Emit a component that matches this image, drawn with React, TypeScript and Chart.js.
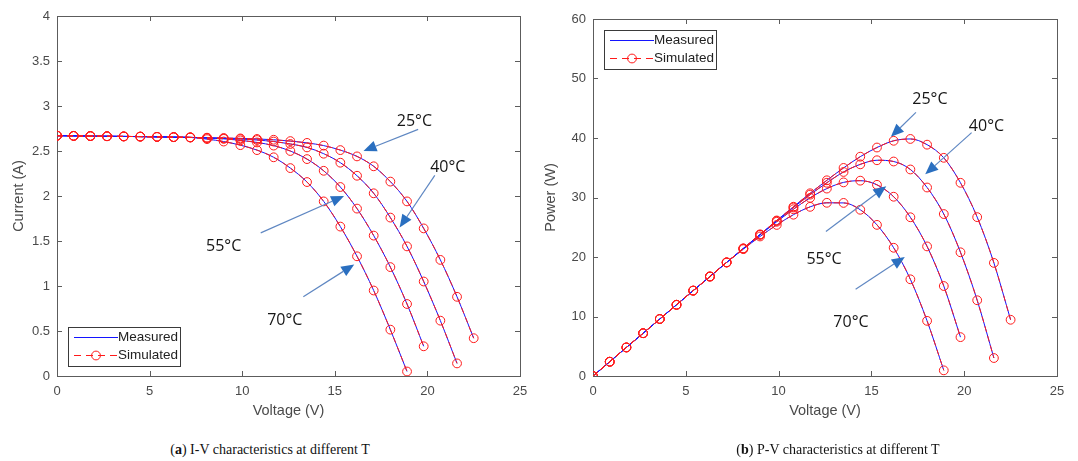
import React, { useEffect, useRef } from "react";
import { Chart, registerables } from "chart.js";

Chart.register(...registerables);

// ---------- data ----------
const VOLTAGE = [0, 0.9, 1.8, 2.7, 3.6, 4.5, 5.4, 6.3, 7.2, 8.1, 9.0, 9.9, 10.8, 11.7, 12.6, 13.5, 14.4, 15.3, 16.2, 17.1, 18.0, 18.9, 19.8, 20.7, 21.6, 22.5];

const I_25C = [2.670, 2.668, 2.666, 2.664, 2.662, 2.660, 2.657, 2.654, 2.651, 2.648, 2.644, 2.640, 2.634, 2.625, 2.610, 2.590, 2.560, 2.510, 2.440, 2.330, 2.160, 1.940, 1.640, 1.290, 0.880, 0.420];
const I_40C = [2.670, 2.668, 2.666, 2.664, 2.662, 2.660, 2.657, 2.654, 2.651, 2.646, 2.640, 2.633, 2.622, 2.605, 2.578, 2.540, 2.470, 2.370, 2.225, 2.030, 1.760, 1.440, 1.050, 0.615, 0.140];
const I_55C = [2.670, 2.668, 2.666, 2.664, 2.662, 2.660, 2.657, 2.654, 2.651, 2.643, 2.635, 2.618, 2.595, 2.560, 2.500, 2.410, 2.280, 2.100, 1.860, 1.560, 1.210, 0.800, 0.330];
const I_70C = [2.670, 2.668, 2.666, 2.664, 2.662, 2.660, 2.657, 2.654, 2.651, 2.632, 2.605, 2.565, 2.510, 2.430, 2.310, 2.155, 1.940, 1.660, 1.330, 0.950, 0.515, 0.050];

const P_25C = [0, 2.40, 4.80, 7.19, 9.58, 11.97, 14.35, 16.72, 19.09, 21.45, 23.80, 26.14, 28.45, 30.71, 32.89, 34.97, 36.86, 38.40, 39.53, 39.84, 38.88, 36.67, 32.47, 26.70, 19.01, 9.45];
const P_40C = [0, 2.40, 4.80, 7.19, 9.58, 11.97, 14.35, 16.72, 19.09, 21.43, 23.76, 26.07, 28.32, 30.48, 32.48, 34.29, 35.57, 36.26, 36.05, 34.71, 31.68, 27.22, 20.79, 12.73, 3.02];
const P_55C = [0, 2.40, 4.80, 7.19, 9.58, 11.97, 14.35, 16.72, 19.09, 21.41, 23.72, 25.92, 28.03, 29.95, 31.50, 32.54, 32.83, 32.13, 30.13, 26.68, 21.78, 15.12, 6.53];
const P_70C = [0, 2.40, 4.80, 7.19, 9.58, 11.97, 14.35, 16.72, 19.09, 21.32, 23.45, 25.39, 27.11, 28.43, 29.11, 29.09, 27.94, 25.40, 21.55, 16.25, 9.27, 0.95];

const V_TICKS = [0, 5, 10, 15, 20, 25];
const I_TICKS = [0, 0.5, 1, 1.5, 2, 2.5, 3, 3.5, 4];
const P_TICKS = [0, 10, 20, 30, 40, 50, 60];

const LEGEND_LABELS = ["Measured", "Simulated"];

// ---------- annotation placement (data coordinates) ----------
type Ann = { text: string; tx: number; ty: number; fx: number; fy: number; hx: number; hy: number };
const IV_NOTES: Ann[] = [
  { text: "25°C", tx: 19.3, ty: 2.83, fx: 19.5, fy: 2.74, hx: 16.55, hy: 2.5 },
  { text: "40°C", tx: 21.1, ty: 2.32, fx: 20.4, fy: 2.23, hx: 18.5, hy: 1.65 },
  { text: "55°C", tx: 9.0, ty: 1.44, fx: 11.0, fy: 1.59, hx: 15.5, hy: 2.0 },
  { text: "70°C", tx: 12.3, ty: 0.62, fx: 13.3, fy: 0.88, hx: 16.05, hy: 1.24 },
];
const PV_NOTES: Ann[] = [
  { text: "25°C", tx: 18.15, ty: 46.4, fx: 17.4, fy: 44.3, hx: 16.05, hy: 40.2 },
  { text: "40°C", tx: 21.2, ty: 42.0, fx: 20.4, fy: 40.9, hx: 17.9, hy: 33.9 },
  { text: "55°C", tx: 12.45, ty: 19.6, fx: 12.55, fy: 24.3, hx: 15.8, hy: 31.9 },
  { text: "70°C", tx: 13.9, ty: 9.0, fx: 14.15, fy: 14.6, hx: 16.8, hy: 20.0 },
];

const SANS = "'Liberation Sans', Arial, Helvetica, sans-serif";
const TICK_COLOR = "#4a4a4a";
const AXIS_COLOR = "#5c5c5c";
const RED = "#ff1a1a";
const BLUE = "#1414ff";

type Spec = {
  series: number[][];
  yTicks: number[];
  yMax: number;
  yTitle: string;
  yAxisWidth: number;
  yTitlePad: number;
  padRight: number;
  padTop: number;
  padBottom: number;
  notes: Ann[];
  legendAt: (area: { left: number; top: number; right: number; bottom: number }) => { x: number; y: number };
};

function drawArrow(ctx: CanvasRenderingContext2D, x0: number, y0: number, x1: number, y1: number) {
  const ang = Math.atan2(y1 - y0, x1 - x0);
  const L = 13;
  const W = 5.5;
  const bx = x1 - L * Math.cos(ang);
  const by = y1 - L * Math.sin(ang);
  ctx.save();
  ctx.strokeStyle = "#5f87c2";
  ctx.lineWidth = 1.2;
  ctx.beginPath();
  ctx.moveTo(x0, y0);
  ctx.lineTo(bx, by);
  ctx.stroke();
  ctx.fillStyle = "#2a6fc0";
  ctx.beginPath();
  ctx.moveTo(x1, y1);
  ctx.lineTo(bx + W * Math.sin(ang), by - W * Math.cos(ang));
  ctx.lineTo(bx - W * Math.sin(ang), by + W * Math.cos(ang));
  ctx.closePath();
  ctx.fill();
  ctx.restore();
}

function buildChart(canvas: HTMLCanvasElement, spec: Spec): Chart {
  const datasets: any[] = [];
  spec.series.forEach((ys) => {
    datasets.push({
      label: LEGEND_LABELS[1],
      data: ys.map((y, i) => ({ x: VOLTAGE[i], y })),
      borderColor: RED,
      borderWidth: 1,
      borderDash: [6, 4],
      pointRadius: 4.4,
      pointBorderWidth: 1,
      pointBorderColor: RED,
      pointBackgroundColor: "rgba(0,0,0,0)",
      cubicInterpolationMode: "monotone",
      order: 0,
    });
    datasets.push({
      label: LEGEND_LABELS[0],
      data: ys.map((y, i) => ({ x: VOLTAGE[i], y })),
      borderColor: BLUE,
      borderWidth: 1,
      pointRadius: 0,
      cubicInterpolationMode: "monotone",
      order: 1,
    });
  });

  const framePlugin = {
    id: "frameTicks",
    beforeDatasetsDraw(chart: any) {
      const { ctx, chartArea: a, scales } = chart;
      ctx.save();
      ctx.strokeStyle = AXIS_COLOR;
      ctx.lineWidth = 1;
      ctx.strokeRect(Math.round(a.left) + 0.5, Math.round(a.top) + 0.5, Math.round(a.right - a.left), Math.round(a.bottom - a.top));
      const tl = 5;
      ctx.beginPath();
      scales.x.ticks.forEach((t: any) => {
        const px = Math.round(scales.x.getPixelForValue(t.value)) + 0.5;
        ctx.moveTo(px, a.bottom);
        ctx.lineTo(px, a.bottom - tl);
        ctx.moveTo(px, a.top);
        ctx.lineTo(px, a.top + tl);
      });
      scales.y.ticks.forEach((t: any) => {
        const py = Math.round(scales.y.getPixelForValue(t.value)) + 0.5;
        ctx.moveTo(a.left, py);
        ctx.lineTo(a.left + tl, py);
        ctx.moveTo(a.right, py);
        ctx.lineTo(a.right - tl, py);
      });
      ctx.stroke();
      ctx.restore();
    },
    afterDatasetsDraw(chart: any) {
      const { ctx, chartArea: a, scales } = chart;
      ctx.save();
      ctx.font = "16px 'Open Sans', 'DejaVu Sans', sans-serif";
      ctx.fillStyle = "#161616";
      ctx.textAlign = "center";
      ctx.textBaseline = "middle";
      spec.notes.forEach((n) => {
        ctx.fillText(n.text, scales.x.getPixelForValue(n.tx), scales.y.getPixelForValue(n.ty));
        drawArrow(
          ctx,
          scales.x.getPixelForValue(n.fx),
          scales.y.getPixelForValue(n.fy),
          scales.x.getPixelForValue(n.hx),
          scales.y.getPixelForValue(n.hy)
        );
      });
      ctx.restore();

      const { x, y } = spec.legendAt(a);
      const w = 112;
      const h = 39;
      ctx.save();
      ctx.fillStyle = "#ffffff";
      ctx.fillRect(x, y, w, h);
      ctx.strokeStyle = "#3a3a3a";
      ctx.lineWidth = 1;
      ctx.strokeRect(x + 0.5, y + 0.5, w, h);
      const r1 = y + 10.5;
      const r2 = y + 28.5;
      ctx.strokeStyle = BLUE;
      ctx.beginPath();
      ctx.moveTo(x + 6, r1);
      ctx.lineTo(x + 50, r1);
      ctx.stroke();
      ctx.strokeStyle = RED;
      ctx.setLineDash([7, 5]);
      ctx.beginPath();
      ctx.moveTo(x + 6, r2);
      ctx.lineTo(x + 50, r2);
      ctx.stroke();
      ctx.setLineDash([]);
      ctx.beginPath();
      ctx.arc(x + 28, r2, 4.4, 0, Math.PI * 2);
      ctx.stroke();
      ctx.fillStyle = "#222222";
      ctx.font = "13.5px " + SANS;
      ctx.textAlign = "left";
      ctx.textBaseline = "middle";
      ctx.fillText(LEGEND_LABELS[0], x + 50, r1);
      ctx.fillText(LEGEND_LABELS[1], x + 50, r2);
      ctx.restore();
    },
  };

  return new Chart(canvas, {
    type: "line",
    data: { datasets },
    options: {
      animation: false,
      responsive: false,
      devicePixelRatio: 1,
      events: [],
      layout: { padding: { left: 0, right: spec.padRight, top: spec.padTop, bottom: spec.padBottom } },
      plugins: { legend: { display: false }, tooltip: { enabled: false } },
      scales: {
        x: {
          type: "linear",
          min: 0,
          max: 25,
          afterBuildTicks: (s: any) => {
            s.ticks = V_TICKS.map((v) => ({ value: v }));
          },
          afterFit: (s: any) => {
            s.height = 44;
          },
          grid: { display: false, drawTicks: false, tickLength: 0 },
          border: { display: false },
          ticks: {
            padding: 8,
            color: TICK_COLOR,
            font: { family: SANS, size: 13 },
            callback: (v: any) => String(v),
            maxRotation: 0,
            autoSkip: false,
          },
          title: {
            display: true,
            text: "Voltage (V)",
            color: TICK_COLOR,
            font: { family: SANS, size: 14.5 },
            padding: { top: 0, bottom: 0 },
          },
        },
        y: {
          type: "linear",
          min: 0,
          max: spec.yMax,
          afterBuildTicks: (s: any) => {
            s.ticks = spec.yTicks.map((v) => ({ value: v }));
          },
          afterFit: (s: any) => {
            s.width = spec.yAxisWidth;
          },
          grid: { display: false, drawTicks: false, tickLength: 0 },
          border: { display: false },
          ticks: {
            padding: 7,
            color: TICK_COLOR,
            font: { family: SANS, size: 13 },
            callback: (v: any) => String(v),
            autoSkip: false,
          },
          title: {
            display: true,
            text: spec.yTitle,
            color: TICK_COLOR,
            font: { family: SANS, size: 14.5 },
            padding: { top: spec.yTitlePad, bottom: 0 },
          },
        },
      },
    } as any,
    plugins: [framePlugin],
  });
}

export default function App() {
  const leftRef = useRef<HTMLCanvasElement>(null);
  const rightRef = useRef<HTMLCanvasElement>(null);

  useEffect(() => {
    const c1 = buildChart(leftRef.current!, {
      series: [I_25C, I_40C, I_55C, I_70C],
      yTicks: I_TICKS,
      yMax: 4,
      yTitle: "Current (A)",
      yAxisWidth: 57,
      yTitlePad: 10,
      padRight: 20,
      padTop: 16,
      padBottom: 8,
      notes: IV_NOTES,
      legendAt: (a) => ({ x: Math.round(a.left) + 11, y: Math.round(a.bottom) - 49 }),
    });
    const c2 = buildChart(rightRef.current!, {
      series: [P_25C, P_40C, P_55C, P_70C],
      yTicks: P_TICKS,
      yMax: 60,
      yTitle: "Power (W)",
      yAxisWidth: 54,
      yTitlePad: 3,
      padRight: 21,
      padTop: 19,
      padBottom: 8,
      notes: PV_NOTES,
      legendAt: (a) => ({ x: Math.round(a.left) + 11, y: Math.round(a.top) + 11 }),
    });
    return () => {
      c1.destroy();
      c2.destroy();
    };
  }, []);

  const caption: React.CSSProperties = {
    position: "absolute",
    top: 441,
    width: 540,
    textAlign: "center",
    fontFamily: "'Liberation Serif', 'Times New Roman', serif",
    fontSize: 14,
    color: "#111",
    lineHeight: "18px",
    whiteSpace: "nowrap",
  };

  return (
    <div style={{ position: "fixed", left: 0, top: 0, width: 1078, height: 461, background: "#fff", overflow: "hidden" }}>
      <canvas ref={leftRef} width={540} height={428} style={{ position: "absolute", left: 0, top: 0, width: 540, height: 428 }} />
      <canvas ref={rightRef} width={539} height={428} style={{ position: "absolute", left: 539, top: 0, width: 539, height: 428 }} />
      <div style={{ ...caption, left: 0 }}>
        (<b>a</b>) I-V characteristics at different T
      </div>
      <div style={{ ...caption, left: 568 }}>
        (<b>b</b>) P-V characteristics at different T
      </div>
    </div>
  );
}
